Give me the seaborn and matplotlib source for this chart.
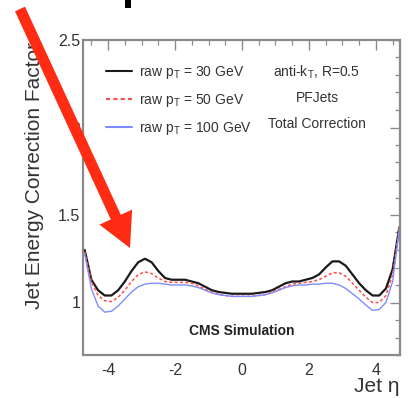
import matplotlib
matplotlib.use("Agg")
import matplotlib.pyplot as plt
from matplotlib.patches import FancyArrow, Rectangle
from matplotlib.transforms import IdentityTransform
from matplotlib.ticker import MultipleLocator
import numpy as np
import pandas as pd
import seaborn as sns

# Jet eta sampling points
eta = [-4.7, -4.5, -4.3, -4.1, -3.9, -3.7, -3.5, -3.3, -3.1, -2.9, -2.7, -2.5,
       -2.3, -2.1, -1.9, -1.7, -1.5, -1.3, -1.1, -0.9, -0.7, -0.5, -0.3, -0.1,
       0.1, 0.3, 0.5, 0.7, 0.9, 1.1, 1.3, 1.5, 1.7, 1.9, 2.1, 2.3, 2.5, 2.7,
       2.9, 3.1, 3.3, 3.5, 3.7, 3.9, 4.1, 4.3, 4.5, 4.7]

# Total correction factor for three raw jet pT values
corr_30 = [1.30, 1.13, 1.07, 1.04, 1.04, 1.07, 1.12, 1.18, 1.23, 1.25, 1.23, 1.18,
           1.14, 1.13, 1.13, 1.13, 1.12, 1.11, 1.09, 1.07, 1.06, 1.055, 1.05, 1.05,
           1.05, 1.05, 1.055, 1.06, 1.07, 1.09, 1.11, 1.12, 1.12, 1.13, 1.14, 1.16,
           1.20, 1.235, 1.235, 1.21, 1.16, 1.11, 1.07, 1.04, 1.04, 1.08, 1.19, 1.43]
corr_50 = [1.29, 1.12, 1.04, 1.01, 1.005, 1.03, 1.07, 1.12, 1.16, 1.175, 1.165, 1.14,
           1.12, 1.115, 1.115, 1.115, 1.11, 1.095, 1.075, 1.06, 1.045, 1.04, 1.035, 1.035,
           1.035, 1.035, 1.04, 1.045, 1.06, 1.075, 1.09, 1.105, 1.11, 1.115, 1.12, 1.13,
           1.15, 1.17, 1.17, 1.15, 1.11, 1.07, 1.03, 1.0, 1.0, 1.04, 1.16, 1.43]
corr_100 = [1.28, 1.08, 0.98, 0.945, 0.95, 0.98, 1.02, 1.06, 1.09, 1.105, 1.11, 1.11,
            1.105, 1.10, 1.10, 1.10, 1.095, 1.085, 1.07, 1.055, 1.045, 1.04, 1.035, 1.035,
            1.035, 1.035, 1.04, 1.045, 1.055, 1.07, 1.085, 1.095, 1.10, 1.10, 1.105, 1.105,
            1.11, 1.11, 1.10, 1.08, 1.05, 1.02, 0.985, 0.955, 0.96, 1.0, 1.12, 1.42]

series_labels = ["raw p$_{\\rm T}$ = 30 GeV", "raw p$_{\\rm T}$ = 50 GeV",
                 "raw p$_{\\rm T}$ = 100 GeV"]
info_lines = ["anti-k$_{\\rm T}$, R=0.5", "PFJets", "Total Correction"]

df = pd.DataFrame({
    "eta": eta * 3,
    "corr": corr_30 + corr_50 + corr_100,
    "series": [series_labels[0]] * len(eta) + [series_labels[1]] * len(eta)
              + [series_labels[2]] * len(eta),
})

sns.set_style("white")
plt.rcParams["font.family"] = ["Liberation Sans", "DejaVu Sans"]
plt.rcParams["mathtext.fontset"] = "custom"
plt.rcParams["mathtext.rm"] = "Liberation Sans"

W, H = 409, 398
fig = plt.figure(figsize=(W / 100, H / 100), dpi=100)
ax = fig.add_axes([83 / W, 1 - 355 / H, 317 / W, 315 / H])

palette = {series_labels[0]: "#1a1a1a", series_labels[1]: "#ff4d4d",
           series_labels[2]: "#7f8cff"}
dashes = {series_labels[0]: "", series_labels[1]: (2, 1.5),
          series_labels[2]: ""}
sns.lineplot(data=df, x="eta", y="corr", hue="series", style="series",
             palette=palette, dashes=dashes, ax=ax, legend=True)
for line, lw in zip(ax.lines, [1.6, 1.1, 1.0]):
    line.set_linewidth(lw)

ax.set_xlim(-4.75, 4.72)
ax.set_ylim(0.7, 2.5)
ax.set_xlabel("")
ax.set_ylabel("")
ax.xaxis.set_minor_locator(MultipleLocator(0.5))
ax.yaxis.set_minor_locator(MultipleLocator(0.1))
ax.set_yticks([1, 1.5, 2, 2.5])
ax.set_yticklabels(["1", "1.5", "2", "2.5"])
ax.set_xticks([-4, -2, 0, 2, 4])
ax.set_xticklabels(["-4", "-2", "0", "2", "4"])

grey = "#8a8a8a"
for s in ax.spines.values():
    s.set_color(grey)
    s.set_linewidth(1.6)
ax.tick_params(which="both", direction="in", top=True, right=True, color=grey,
               labelcolor="#333333", labelsize=11.5)
ax.tick_params(which="major", length=7, width=1.0)
ax.tick_params(which="minor", length=3.5, width=0.9)
ax.tick_params(axis="x", pad=6)
ax.tick_params(axis="y", pad=2)

leg = ax.legend(loc="upper left", bbox_to_anchor=(0.072, 0.925), frameon=False,
                fontsize=10, handlelength=1.9, handletextpad=0.5,
                labelspacing=0.8, borderpad=0, borderaxespad=0)
for t in leg.get_texts():
    t.set_color("#333333")

for i, txt in enumerate(info_lines):
    ax.text(0.738, (355 - (72 + 26 * i)) / 315, txt, transform=ax.transAxes,
            ha="center", va="center", fontsize=10, color="#333333")

ax.text(0.5, (355 - 331) / 315, "CMS Simulation", transform=ax.transAxes,
        ha="center", va="center", fontsize=10, fontweight="bold", color="#222222")

fig.text(35 / W, 1 - 42 / H, "Jet Energy Correction Factor", rotation=90,
         ha="center", va="top", fontsize=15, color="#333333")
fig.text(400 / W, 2 / H, "Jet \u03b7", ha="right", va="bottom", fontsize=15,
         color="#333333")

# small dark stroke at the top edge, left over from a heading above the frame
fig.add_artist(Rectangle((125, H - 8), 6, 8, color="black", linewidth=0,
                         transform=IdentityTransform(), zorder=10))

arrow = FancyArrow(20, H - 9, 110, -239, width=11, head_width=36, head_length=34,
                   length_includes_head=True, color="#ff2b12", linewidth=0,
                   transform=IdentityTransform(), zorder=10)
fig.add_artist(arrow)

fig.savefig("out.png", dpi=100, facecolor="white")
